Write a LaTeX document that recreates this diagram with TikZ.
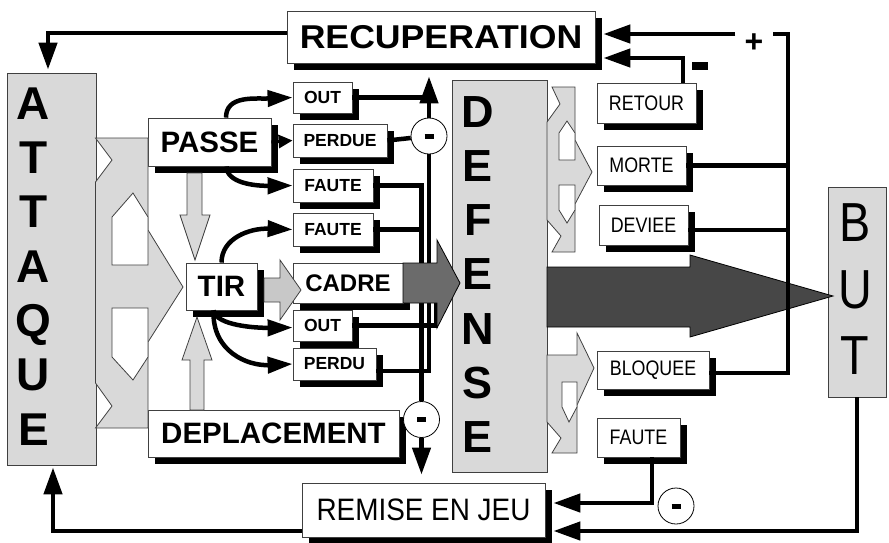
\documentclass[tikz,border=0pt]{standalone}
\usepackage{fontspec}
\setmainfont{Liberation Sans}
\usepackage{graphicx}
\usetikzlibrary{arrows.meta,shadows}

\definecolor{panelgray}{HTML}{D9D9D9}
\definecolor{lightarrow}{HTML}{C8C8C8}
\definecolor{midarrow}{HTML}{6B6B6B}
\definecolor{darkarrow}{HTML}{474747}

\newcommand{\nrw}[1]{\scalebox{0.85}[1]{#1}}

\begin{document}
\begin{tikzpicture}[
	x=1pt, y=-1pt,
	panel/.style={rectangle, draw=black!75, line width=0.8pt, fill=panelgray, inner sep=0pt},
	block/.style={rectangle, draw=black!75, line width=0.8pt, fill=white, inner sep=0pt, drop shadow={shadow xshift=7pt, shadow yshift=-7pt, opacity=1, fill=black}},
	bigbold/.style={block, font=\fontsize{29.5}{30}\selectfont\bfseries},
	smallbold/.style={block, font=\fontsize{17.5}{18}\selectfont\bfseries},
	narrowbox/.style={block, font=\fontsize{21}{22}\selectfont},
	letters/.style={align=center, inner sep=0pt},
	minuscirc/.style={circle, draw=black, line width=0.8pt, fill=white, minimum size=36pt, inner sep=0pt},
	flow/.style={draw=black!75, line width=0.8pt, fill=panelgray},
	hole/.style={draw=black!75, line width=0.8pt, fill=white},
	conn/.style={line width=4.5pt},
	arr/.style={-{Triangle[length=27pt,width=18pt]}},
	arrsmall/.style={line width=3pt, -{Triangle[length=14pt,width=13pt]}},
	swoop/.style={line width=4.5pt, -{Triangle[length=25pt,width=16pt]}}
]
\useasboundingbox (0,0) rectangle (889,542);

% panels
\node (attaque) [panel, minimum width=89pt, minimum height=392pt] at (51.5,269) {};
\node (attaqueletters) [letters, font=\fontsize{46}{54.3}\selectfont\bfseries] at (33.5,266.4) {A\\T\\T\\A\\Q\\U\\E};
\node (defense) [panel, minimum width=95pt, minimum height=392pt] at (499.5,276) {};
\node (defenseletters) [letters, font=\fontsize{45}{54.2}\selectfont\bfseries] at (478,274.5) {D\\E\\F\\E\\N\\S\\E};
\node (but) [panel, minimum width=58pt, minimum height=210pt] at (857,292) {};
\node (butletters) [letters, font=\fontsize{55}{66.5}\selectfont] at (855,289.5) {\nrw{B}\\\nrw{U}\\\nrw{T}};

% boxes
\node (recup) [block, minimum width=308pt, minimum height=52pt, font=\fontsize{33}{34}\selectfont\bfseries] at (441,37) {\scalebox{1.08}[1]{RECUPERATION}};
\node (passe) [bigbold, minimum width=123pt, minimum height=48pt] at (209.5,142) {PASSE};
\node (tir) [bigbold, minimum width=71pt, minimum height=47pt] at (221.5,286.5) {TIR};
\node (deplacement) [bigbold, minimum width=251pt, minimum height=47pt] at (273.5,433.5) {DEPLACEMENT};
\node (cadre) [block, minimum width=110pt, minimum height=40pt, font=\fontsize{24}{25}\selectfont\bfseries] at (348,283) {CADRE};
\node (out1) [smallbold, minimum width=59pt, minimum height=31pt] at (322.5,97.5) {OUT};
\node (perdue) [smallbold, minimum width=94pt, minimum height=33pt] at (340,140.5) {PERDUE};
\node (faute1) [smallbold, minimum width=80pt, minimum height=33pt] at (333,185.5) {FAUTE};
\node (faute2) [smallbold, minimum width=80pt, minimum height=33pt] at (333,229.5) {FAUTE};
\node (out2) [smallbold, minimum width=59pt, minimum height=31pt] at (322.5,325.5) {OUT};
\node (perdu) [smallbold, minimum width=83pt, minimum height=32pt] at (334.5,364) {PERDU};
\node (retour) [narrowbox, minimum width=99pt, minimum height=40pt] at (646.5,103) {\nrw{RETOUR}};
\node (morte) [narrowbox, minimum width=89pt, minimum height=39pt] at (641.5,165.5) {\nrw{MORTE}};
\node (deviee) [narrowbox, minimum width=89pt, minimum height=40pt] at (643.5,225) {\nrw{DEVIEE}};
\node (bloquee) [narrowbox, minimum width=112pt, minimum height=38pt] at (653,370) {\nrw{BLOQUEE}};
\node (fauted) [narrowbox, minimum width=83pt, minimum height=39pt] at (638.5,437.5) {\nrw{FAUTE}};
\node (remise) [block, minimum width=243pt, minimum height=54pt, font=\fontsize{31}{32}\selectfont] at (423.5,510) {\scalebox{0.9}[1]{REMISE EN JEU}};

% signs
\node (mcirc1) [minuscirc] at (429,136) {\rule{9pt}{5pt}};
\node (mcirc2) [minuscirc] at (421.5,419.5) {\rule{9pt}{5pt}};
\node (mcirc3) [minuscirc] at (676,506) {\rule{9pt}{5pt}};
\node (minusretour) [inner sep=0pt] at (700,66) {\rule{16pt}{8pt}};
\node (plus) [inner sep=0pt, font=\fontsize{32}{32}\selectfont\bfseries] at (754,43) {+};
\coordinate (plusturn) at (788,34);
\coordinate (outjoin) at (436,275);

% forks
\draw[flow] (95.5,138) -- (148,138) -- (148,230) -- (183,287) -- (148,342) -- (148,428) -- (95.5,428) -- (112,406) -- (95.5,383) -- (95.5,182) -- (112,160) -- cycle;
\draw[hole] (112,265) -- (112,217) -- (133,193) -- (148,217) -- (148,265) -- cycle;
\draw[hole] (112,308) -- (148,308) -- (148,357) -- (133,380) -- (112,357) -- cycle;
\draw[flow] (552,87) -- (575,87) -- (575,140) -- (592,172) -- (575,204) -- (575,252) -- (552,252) -- (561,236) -- (547,220) -- (547,122) -- (560,104) -- cycle;
\draw[hole] (559,160) -- (559,133) -- (567,121) -- (575,133) -- (575,160) -- cycle;
\draw[hole] (559,185) -- (575,185) -- (575,210) -- (567,223) -- (559,210) -- cycle;
\draw[flow] (547,355) -- (577,355) -- (577,333) -- (594,368) -- (577,405) -- (577,453) -- (552,453) -- (561,438) -- (547,422) -- cycle;
\draw[hole] (562,382) -- (577,382) -- (577,407) -- (569,422) -- (562,407) -- cycle;

% main arrow
\draw[draw=black, line width=0.8pt, fill=darkarrow] (547,267) -- (690,267) -- (690,255) -- (833,296) -- (690,337) -- (690,327) -- (547,327) -- cycle;

% attack side
\draw[conn, arr] ([yshift=4pt]recup.west) -| ([xshift=-3.5pt, yshift=3pt]attaque.north);
\draw[conn, arr] ([yshift=-21pt]remise.west) -| ([xshift=1.5pt, yshift=-2pt]attaque.south);
\draw[swoop] ([xshift=16.5pt]passe.north) .. controls (226,95) and (255,99) .. (out1.west);
\draw[arrsmall] (passe.east) -- (perdue.west);
\draw[swoop] ([xshift=17pt]passe.south) .. controls (226.5,183) and (255,186) .. (faute1.west);
\draw[swoop] (tir.north) .. controls (221.5,238) and (250,228) .. (faute2.west);
\draw[swoop] ([xshift=-8pt]tir.south) .. controls (216,326) and (258,328) .. ([yshift=-2pt]out2.west);
\draw[swoop] ([xshift=-8pt]tir.south) .. controls (212,352) and (248,366) .. (perdu.west);

% losses
\draw[conn] (out1.east) -- (out1.east -| mcirc1);
\draw[conn] (perdue.east) -- (mcirc1);
\draw[conn, arr] (mcirc1.north) -- ([yshift=-13pt]mcirc1.north |- recup.south);
\draw[conn] (mcirc1.south) |- ([yshift=-7pt]perdu.east);
\draw[conn] (out2.east) -| (outjoin);
\draw[conn] (faute1.east) -| (mcirc2.north);
\draw[conn] (faute2.east) -- (faute2.east -| mcirc2.north);
\draw[conn, arr] (mcirc2.south) -- ([yshift=8pt]mcirc2.south |- remise.north);

% defense side
\draw[conn, arr] ([xshift=36.5pt]retour.north) |- ([shift={(8pt,-21pt)}]recup.east);
\draw[conn] ([yshift=-3pt]bloquee.east) -| (plusturn) -- ([xshift=9pt]plus.east |- plusturn);
\draw[conn, arr] ([xshift=-9pt]plus.west |- plusturn) -- ([shift={(8pt,3pt)}]recup.east);
\draw[conn] (morte.east) -- (morte.east -| plusturn);
\draw[conn] ([yshift=-5pt]deviee.east) -- ([yshift=-5pt]deviee.east -| plusturn);
\draw[conn, arr] ([xshift=13.5pt]fauted.south) |- ([shift={(8pt,7pt)}]remise.east);
\draw[conn, arr] (but.south) |- ([shift={(8pt,-21pt)}]remise.east);

% block arrows
\draw[draw=black, line width=0.8pt, fill=midarrow] (403,263) -- (437,263) -- (437,240) -- (460,283) -- (437,328) -- (437,303) -- (403,303) -- cycle;
\draw[flow, fill=lightarrow] (264,278) -- (280,278) -- (280,260) -- (301,290) -- (280,320) -- (280,302) -- (264,302) -- cycle;
\draw[flow] (187,173) -- (202,173) -- (202,215) -- (210,215) -- (195,260) -- (180,215) -- (187,215) -- cycle;
\draw[flow] (190,410) -- (204,410) -- (204,360) -- (212,360) -- (197,317) -- (182,360) -- (190,360) -- cycle;
\end{tikzpicture}
\end{document}
